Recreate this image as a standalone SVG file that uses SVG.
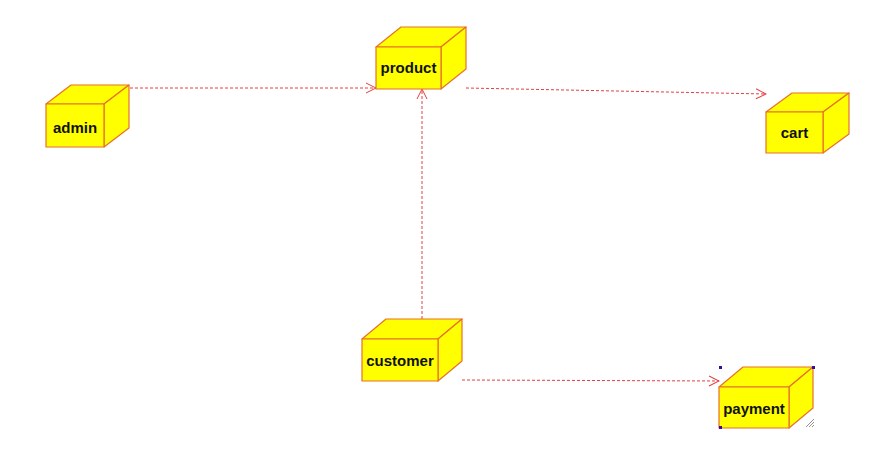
<svg xmlns="http://www.w3.org/2000/svg" width="888" height="476" viewBox="0 0 888 476">
<style>
.box{fill:#ffff00;stroke:#e8702a;stroke-width:1.2;stroke-linejoin:round}
.lbl{font-family:"Liberation Sans",Arial,sans-serif;font-weight:bold;font-size:15px;fill:#111;text-anchor:middle}
.conn{fill:none;stroke:#e04040;stroke-width:1;stroke-dasharray:3,2}
.hd{fill:none;stroke:#e04040;stroke-width:1}
.handle{fill:#3010a0}
</style>
<defs>
<marker id="arr" markerWidth="12" markerHeight="12" refX="11" refY="6" orient="auto" markerUnits="userSpaceOnUse">
<path class="hd" d="M1,1 L11,6 L1,11"/>
</marker>
</defs>
<rect width="888" height="476" fill="#ffffff"/>
<g id="connectors">
<line class="conn" x1="130" y1="88" x2="376" y2="88" marker-end="url(#arr)"/>
<line class="conn" x1="466" y1="88" x2="766" y2="94" marker-end="url(#arr)"/>
<line class="conn" x1="422" y1="319" x2="422" y2="89" marker-end="url(#arr)"/>
<line class="conn" x1="462" y1="380" x2="719" y2="381" marker-end="url(#arr)"/>
</g>
<g id="admin">
<path class="box" d="M46,104 L71,85 L129,85 L104,104 Z"/>
<path class="box" d="M104,104 L129,85 L129,128 L104,147 Z"/>
<rect class="box" x="46" y="104" width="58" height="43"/>
<text class="lbl" x="75" y="133">admin</text>
</g>
<g id="product">
<path class="box" d="M376,47 L401,27 L466,27 L441,47 Z"/>
<path class="box" d="M441,47 L466,27 L466,69 L441,89 Z"/>
<rect class="box" x="376" y="47" width="65" height="42"/>
<text class="lbl" x="408.5" y="73">product</text>
</g>
<g id="cart">
<path class="box" d="M766,112 L792,93 L849,93 L823,112 Z"/>
<path class="box" d="M823,112 L849,93 L849,134 L823,153 Z"/>
<rect class="box" x="766" y="112" width="57" height="41"/>
<text class="lbl" x="794.5" y="138">cart</text>
</g>
<g id="customer">
<path class="box" d="M362,339 L386,319 L462,319 L438,339 Z"/>
<path class="box" d="M438,339 L462,319 L462,361 L438,381 Z"/>
<rect class="box" x="362" y="339" width="76" height="42"/>
<text class="lbl" x="400" y="366">customer</text>
</g>
<g id="payment">
<path class="box" d="M719,387 L743,367 L813,367 L789,387 Z"/>
<path class="box" d="M789,387 L813,367 L813,408 L789,428 Z"/>
<rect class="box" x="719" y="387" width="70" height="41"/>
<text class="lbl" x="754" y="414">payment</text>
<rect class="handle" x="719" y="366" width="3" height="3"/>
<rect class="handle" x="812" y="366" width="3" height="3"/>
<rect class="handle" x="719" y="426" width="3" height="3"/>
<path d="M806,427 L814,419 M809,427 L814,422 M812,427 L814,425" stroke="#777" stroke-width="0.8" fill="none"/>
</g>
</svg>
